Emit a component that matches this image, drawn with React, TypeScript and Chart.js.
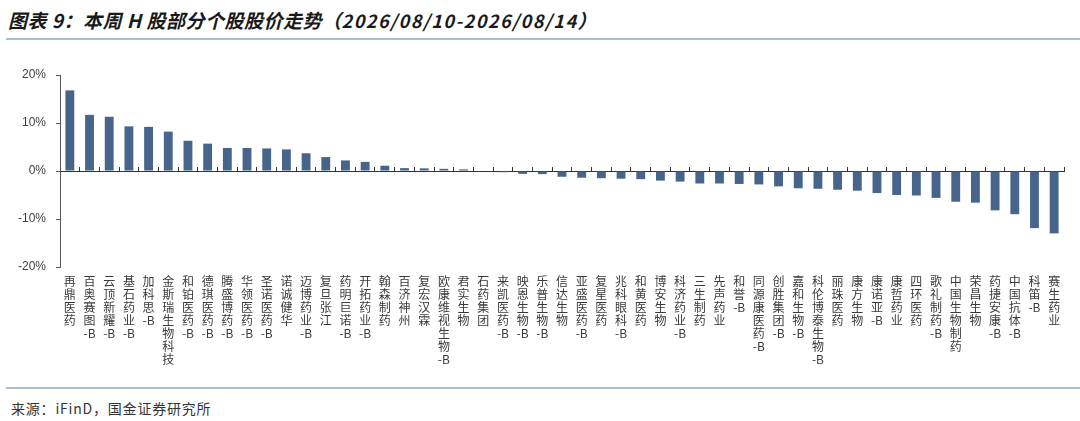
import React, { useEffect, useRef } from "react";
import { Chart, registerables } from "chart.js";

Chart.register(...registerables);

const categories: string[] = [
  "再鼎医药", "百奥赛图-B", "云顶新耀-B", "基石药业-B", "加科思-B", "金斯瑞生物科技",
  "和铂医药-B", "德琪医药-B", "腾盛博药-B", "华领医药-B", "圣诺医药-B", "诺诚健华",
  "迈博药业-B", "复旦张江", "药明巨诺-B", "开拓药业-B", "翰森制药", "百济神州",
  "复宏汉霖", "欧康维视生物-B", "君实生物", "石药集团", "来凯医药-B", "映恩生物-B",
  "乐普生物-B", "信达生物", "亚盛医药-B", "复星医药", "兆科眼科-B", "和黄医药",
  "博安生物", "科济药业-B", "三生制药", "先声药业", "和誉-B", "同源康医药-B",
  "创胜集团-B", "嘉和生物-B", "科伦博泰生物-B", "丽珠医药", "康方生物", "康诺亚-B",
  "康哲药业", "四环医药", "歌礼制药-B", "中国生物制药", "荣昌生物", "药捷安康-B",
  "中国抗体-B", "科笛-B", "赛生药业",
];

const weeklyChange: number[] = [
  16.8, 11.7, 11.3, 9.3, 9.2, 8.2,
  6.3, 5.7, 4.8, 4.8, 4.7, 4.5,
  3.7, 2.9, 2.2, 1.9, 1.1, 0.6,
  0.55, 0.45, 0.35, 0, -0.25, -0.6,
  -0.65, -1.2, -1.4, -1.5, -1.6, -1.7,
  -2.0, -2.2, -2.6, -2.6, -2.7, -2.8,
  -3.2, -3.6, -3.7, -3.9, -4.1, -4.6,
  -5.0, -5.1, -5.6, -6.4, -6.6, -8.2,
  -9.0, -11.9, -13.0,
];

const yMin = -20;
const yMax = 20;
const yStep = 10;

const titleMain = "图表 9：本周 H 股部分个股股价走势";
const titleDates = "2026/08/10-2026/08/14";
const sourceText = "来源：iFinD，国金证券研究所";

function verticalLabel(name: string): string[] {
  const suffix = name.endsWith("-B") ? "-B" : "";
  const base = suffix ? name.slice(0, -2) : name;
  const lines = Array.from(base);
  if (suffix) lines.push(suffix);
  return lines;
}

export default function App() {
  const canvasRef = useRef<HTMLCanvasElement | null>(null);

  useEffect(() => {
    if (!canvasRef.current) return;
    const chart = new Chart(canvasRef.current, {
      type: "bar",
      data: {
        labels: categories.map(verticalLabel),
        datasets: [
          {
            data: weeklyChange,
            backgroundColor: "#47658b",
            borderWidth: 0,
            barPercentage: 0.45,
            categoryPercentage: 1,
            xAxisID: "x",
            yAxisID: "y",
          },
        ],
      },
      options: {
        animation: false,
        responsive: false,
        maintainAspectRatio: false,
        layout: { padding: { top: 25, right: 16, left: 0, bottom: 0 } },
        plugins: {
          legend: { display: false },
          tooltip: { enabled: false },
        },
        scales: {
          x: {
            type: "category",
            position: "bottom",
            offset: true,
            grid: { display: false, drawTicks: false, offset: true },
            border: { display: false },
            ticks: {
              autoSkip: false,
              maxRotation: 0,
              minRotation: 0,
              padding: 8,
              color: "#3a3a3a",
              font: { family: "'Noto Sans CJK SC', sans-serif", size: 12, lineHeight: "13px" },
            },
            afterFit: (scale: any) => {
              scale.height = 118;
            },
          },
          xz: {
            type: "category",
            position: { y: 0 } as any,
            offset: true,
            grid: {
              display: true,
              offset: true,
              drawOnChartArea: false,
              drawTicks: true,
              tickLength: -5,
              color: "#333333",
              lineWidth: 1,
            },
            border: { display: true, color: "#333333", width: 1 },
            ticks: { display: false },
          },
          y: {
            type: "linear",
            position: "left",
            min: yMin,
            max: yMax,
            grid: {
              display: true,
              drawOnChartArea: false,
              drawTicks: true,
              tickLength: 4,
              color: "#595959",
            },
            border: { display: true, color: "#595959", width: 1 },
            ticks: {
              stepSize: yStep,
              padding: 10,
              color: "#404040",
              font: { family: "'Liberation Sans', Arial, sans-serif", size: 12 },
              callback: (v: any) => `${v}%`,
            },
            afterFit: (scale: any) => {
              scale.width = 60;
            },
          },
        },
      } as any,
    });
    return () => chart.destroy();
  }, []);

  const cjk = "'Noto Sans CJK SC', sans-serif";

  return (
    <div
      style={{
        position: "fixed",
        left: 0,
        top: 0,
        width: 1080,
        height: 421,
        background: "#ffffff",
        overflow: "hidden",
      }}
    >
      <div
        style={{
          position: "absolute",
          left: 8,
          top: 7,
          lineHeight: "26px",
          fontSize: 19,
          letterSpacing: "0.5px",
          fontWeight: 700,
          fontStyle: "italic",
          color: "#1a1a1a",
          fontFamily: cjk,
          whiteSpace: "pre",
        }}
      >
        {titleMain}
        <span>（</span>
        <span style={{ fontSize: 18, letterSpacing: "1.5px" }}>{titleDates}</span>
        <span>）</span>
      </div>
      <div
        style={{
          position: "absolute",
          left: 6,
          top: 38,
          width: 1074,
          height: 2,
          background: "#a9bdd0",
        }}
      />
      <canvas
        ref={canvasRef}
        width={1080}
        height={335}
        style={{ position: "absolute", left: 0, top: 50, width: 1080, height: 335 }}
      />
      <div
        style={{
          position: "absolute",
          left: 6,
          top: 387,
          width: 1074,
          height: 2,
          background: "#a9bdd0",
        }}
      />
      <div
        style={{
          position: "absolute",
          left: 11,
          top: 398,
          lineHeight: "20px",
          fontSize: 14,
          letterSpacing: "0.8px",
          color: "#333333",
          fontFamily: cjk,
          whiteSpace: "nowrap",
        }}
      >
        {sourceText}
      </div>
    </div>
  );
}
